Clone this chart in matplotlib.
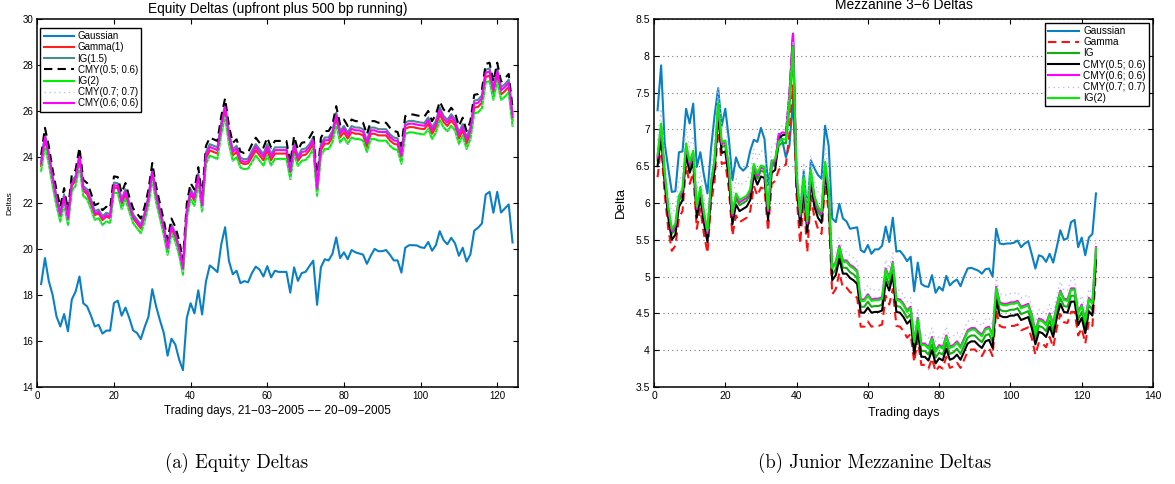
import matplotlib

matplotlib.use("Agg")
import matplotlib.pyplot as plt
from matplotlib.ticker import FuncFormatter, MultipleLocator

plt.rcParams["font.family"] = ["Liberation Sans", "DejaVu Sans"]

days = list(range(1, 125))

# ---- (a) equity tranche deltas
eq_gaussian = [
    18.47, 19.6, 18.6, 18.0, 17.07, 16.63, 17.17, 16.42, 17.8, 18.15,
    18.8, 17.64, 17.5, 17.1, 16.63, 16.7, 16.32, 16.45, 16.45, 17.65,
    17.75, 17.1, 17.45, 17.0, 16.46, 16.35, 16.08, 16.6, 17.05, 18.25,
    17.5, 16.9, 16.35, 15.36, 16.1, 15.85, 15.2, 14.73, 17.0, 17.64,
    17.2, 18.2, 17.15, 18.58, 19.28, 19.15, 18.99, 20.2, 20.94, 19.48,
    18.9, 19.05, 18.51, 18.6, 18.55, 18.95, 19.23, 19.1, 18.8, 19.25,
    18.76, 19.05, 19.0, 19.0, 19.0, 18.1, 19.2, 18.61, 18.95, 19.0,
    19.25, 19.49, 17.57, 19.2, 19.55, 19.5, 19.78, 20.5, 19.6, 19.85,
    19.55, 19.95, 19.85, 19.8, 19.75, 19.35, 19.7, 20.0, 19.9, 19.9,
    19.95, 19.75, 19.5, 19.5, 18.97, 20.05, 20.16, 20.16, 20.15, 20.07,
    20.04, 20.3, 19.92, 20.16, 20.77, 20.38, 20.2, 20.48, 20.24, 19.7,
    20.05, 19.45, 19.76, 20.79, 20.92, 21.1, 22.36, 22.48, 21.57, 22.48,
    21.58, 21.76, 21.93, 20.28,
]
eq_cmy06 = [
    23.70, 24.86, 24.07, 23.06, 22.19, 21.47, 22.26, 21.32, 22.84, 23.06,
    24.00, 22.62, 22.48, 22.05, 21.54, 21.61, 21.32, 21.47, 21.40, 22.77,
    22.74, 22.05, 22.48, 21.90, 21.40, 21.18, 20.96, 21.47, 22.19, 23.35,
    22.34, 21.61, 20.89, 20.02, 20.96, 20.60, 20.02, 19.16, 21.61, 22.48,
    22.19, 23.17, 21.90, 24.07, 24.43, 24.36, 24.29, 25.37, 26.16, 24.94,
    24.21, 24.36, 23.85, 23.78, 23.81, 24.14, 24.43, 24.21, 24.00, 24.43,
    24.00, 24.29, 24.29, 24.29, 24.29, 23.35, 24.50, 23.92, 24.21, 24.24,
    24.43, 24.72, 22.62, 24.43, 24.72, 24.72, 25.00, 25.80, 25.00, 25.22,
    24.94, 25.22, 25.15, 25.15, 25.08, 24.58, 25.15, 25.15, 25.08, 25.08,
    25.08, 24.86, 24.72, 24.68, 24.07, 25.37, 25.44, 25.44, 25.40, 25.37,
    25.35, 25.59, 25.15, 25.44, 26.02, 25.66, 25.49, 25.73, 25.51, 24.94,
    25.30, 24.72, 25.15, 26.31, 26.35, 26.53, 27.65, 27.71, 26.89, 27.71,
    26.89, 27.03, 27.22, 25.73,
]
eq_ig15 = [
    23.81, 24.98, 24.19, 23.17, 22.30, 21.57, 22.37, 21.42, 22.95, 23.17,
    24.12, 22.73, 22.59, 22.16, 21.64, 21.71, 21.42, 21.57, 21.50, 22.88,
    22.85, 22.16, 22.59, 22.00, 21.50, 21.28, 21.06, 21.57, 22.30, 23.46,
    22.45, 21.71, 20.99, 20.12, 21.06, 20.70, 20.12, 19.26, 21.71, 22.59,
    22.30, 23.28, 22.00, 24.19, 24.55, 24.48, 24.41, 25.49, 26.29, 25.06,
    24.33, 24.48, 23.96, 23.89, 23.92, 24.26, 24.55, 24.33, 24.12, 24.55,
    24.12, 24.41, 24.41, 24.41, 24.41, 23.46, 24.62, 24.03, 24.33, 24.36,
    24.55, 24.84, 22.73, 24.55, 24.84, 24.84, 25.12, 25.92, 25.12, 25.34,
    25.06, 25.34, 25.27, 25.27, 25.20, 24.70, 25.27, 25.27, 25.20, 25.20,
    25.20, 24.98, 24.84, 24.80, 24.19, 25.49, 25.56, 25.56, 25.52, 25.49,
    25.47, 25.71, 25.27, 25.56, 26.15, 25.78, 25.61, 25.85, 25.63, 25.06,
    25.42, 24.84, 25.27, 26.44, 26.48, 26.66, 27.78, 27.84, 27.02, 27.84,
    27.02, 27.16, 27.35, 25.85,
]
eq_gamma1 = [
    23.60, 24.71, 23.92, 22.96, 22.09, 21.40, 22.16, 21.25, 22.74, 22.96,
    23.85, 22.52, 22.38, 21.95, 21.47, 21.54, 21.25, 21.40, 21.33, 22.67,
    22.64, 21.95, 22.38, 21.83, 21.33, 21.11, 20.89, 21.40, 22.09, 23.25,
    22.24, 21.54, 20.82, 19.95, 20.89, 20.53, 19.95, 19.09, 21.54, 22.38,
    22.09, 23.07, 21.83, 23.92, 24.28, 24.21, 24.14, 25.22, 25.98, 24.79,
    24.06, 24.21, 23.75, 23.68, 23.71, 23.99, 24.28, 24.06, 23.85, 24.28,
    23.85, 24.14, 24.14, 24.14, 24.14, 23.25, 24.35, 23.82, 24.06, 24.09,
    24.28, 24.57, 22.52, 24.28, 24.57, 24.57, 24.85, 25.65, 24.85, 25.07,
    24.79, 25.07, 25.00, 25.00, 24.93, 24.43, 25.00, 25.00, 24.93, 24.93,
    24.93, 24.71, 24.57, 24.53, 23.92, 25.22, 25.29, 25.29, 25.25, 25.22,
    25.20, 25.44, 25.00, 25.29, 25.84, 25.51, 25.34, 25.58, 25.36, 24.79,
    25.15, 24.57, 25.00, 26.13, 26.17, 26.35, 27.47, 27.53, 26.71, 27.53,
    26.71, 26.85, 27.04, 25.58,
]
eq_ig2 = [
    23.38, 24.48, 23.69, 22.74, 21.87, 21.19, 21.94, 21.04, 22.52, 22.74,
    23.62, 22.30, 22.16, 21.73, 21.26, 21.33, 21.04, 21.19, 21.12, 22.45,
    22.42, 21.73, 22.16, 21.62, 21.12, 20.90, 20.68, 21.19, 21.87, 23.03,
    22.02, 21.33, 20.61, 19.74, 20.68, 20.32, 19.74, 18.88, 21.33, 22.16,
    21.87, 22.85, 21.62, 23.69, 24.05, 23.98, 23.91, 24.99, 25.74, 24.56,
    23.83, 23.98, 23.53, 23.46, 23.49, 23.76, 24.05, 23.83, 23.62, 24.05,
    23.62, 23.91, 23.91, 23.91, 23.91, 23.03, 24.12, 23.60, 23.83, 23.86,
    24.05, 24.34, 22.30, 24.05, 24.34, 24.34, 24.62, 25.42, 24.62, 24.84,
    24.56, 24.84, 24.77, 24.77, 24.70, 24.20, 24.77, 24.77, 24.70, 24.70,
    24.70, 24.48, 24.34, 24.30, 23.69, 24.99, 25.06, 25.06, 25.02, 24.99,
    24.97, 25.21, 24.77, 25.06, 25.60, 25.28, 25.11, 25.35, 25.13, 24.56,
    24.92, 24.34, 24.77, 25.89, 25.93, 26.11, 27.23, 27.29, 26.47, 27.29,
    26.47, 26.61, 26.80, 25.35,
]
eq_cmy0506 = [
    24.08, 25.26, 24.47, 23.44, 22.57, 21.83, 22.64, 21.68, 23.22, 23.44,
    24.40, 23.00, 22.86, 22.43, 21.90, 21.97, 21.68, 21.83, 21.76, 23.15,
    23.12, 22.43, 22.86, 22.26, 21.76, 21.54, 21.32, 21.83, 22.57, 23.73,
    22.72, 21.97, 21.25, 20.38, 21.32, 20.96, 20.38, 19.52, 21.97, 22.86,
    22.57, 23.55, 22.26, 24.47, 24.83, 24.76, 24.69, 25.77, 26.54, 25.34,
    24.61, 24.76, 24.23, 24.16, 24.19, 24.54, 24.83, 24.61, 24.40, 24.83,
    24.40, 24.69, 24.69, 24.69, 24.69, 23.73, 24.90, 24.30, 24.61, 24.64,
    24.83, 25.12, 23.00, 24.83, 25.12, 25.12, 25.40, 26.20, 25.40, 25.62,
    25.34, 25.62, 25.55, 25.55, 25.48, 24.98, 25.55, 25.55, 25.48, 25.48,
    25.48, 25.26, 25.12, 25.08, 24.47, 25.77, 25.84, 25.84, 25.80, 25.77,
    25.75, 25.99, 25.55, 25.84, 26.40, 26.06, 25.89, 26.13, 25.91, 25.34,
    25.70, 25.12, 25.55, 26.69, 26.73, 26.91, 28.03, 28.09, 27.27, 28.09,
    27.27, 27.41, 27.60, 26.13,
]
eq_cmy07 = [
    23.33, 24.43, 23.64, 22.69, 21.82, 21.14, 21.89, 20.99, 22.47, 22.69,
    23.57, 22.25, 22.11, 21.68, 21.21, 21.28, 20.99, 21.14, 21.07, 22.40,
    22.37, 21.68, 22.11, 21.57, 21.07, 20.85, 20.63, 21.14, 21.82, 22.98,
    21.97, 21.28, 20.56, 19.69, 20.63, 20.27, 19.69, 18.83, 21.28, 22.11,
    21.82, 22.80, 21.57, 23.64, 24.00, 23.93, 23.86, 24.94, 25.69, 24.51,
    23.78, 23.93, 23.48, 23.41, 23.44, 23.71, 24.00, 23.78, 23.57, 24.00,
    23.57, 23.86, 23.86, 23.86, 23.86, 22.98, 24.07, 23.55, 23.78, 23.81,
    24.00, 24.29, 22.25, 24.00, 24.29, 24.29, 24.57, 25.37, 24.57, 24.79,
    24.51, 24.79, 24.72, 24.72, 24.65, 24.15, 24.72, 24.72, 24.65, 24.65,
    24.65, 24.43, 24.29, 24.25, 23.64, 24.94, 25.01, 25.01, 24.97, 24.94,
    24.92, 25.16, 24.72, 25.01, 25.55, 25.23, 25.06, 25.30, 25.08, 24.51,
    24.87, 24.29, 24.72, 25.84, 25.88, 26.06, 27.18, 27.24, 26.42, 27.24,
    26.42, 26.56, 26.75, 25.30,
]

# ---- (b) junior mezzanine 3-6 deltas
mz_gaussian = [
    7.26, 7.87, 6.81, 6.47, 6.15, 6.16, 6.69, 6.70, 7.28, 7.08,
    7.35, 6.49, 6.69, 6.38, 6.13, 6.74, 7.19, 7.56, 7.05, 7.28,
    6.87, 6.31, 6.62, 6.49, 6.44, 6.49, 6.71, 6.86, 6.83, 7.02,
    6.87, 6.24, 6.58, 6.51, 6.94, 6.85, 6.62, 6.78, 7.40, 6.25,
    5.85, 6.43, 5.90, 6.58, 6.47, 6.38, 6.33, 7.05, 6.78, 5.79,
    5.74, 5.99, 5.79, 5.75, 5.65, 5.66, 5.67, 5.36, 5.33, 5.43,
    5.31, 5.37, 5.37, 5.42, 5.68, 5.47, 5.80, 5.34, 5.35, 5.29,
    5.21, 5.27, 4.80, 5.19, 4.90, 4.87, 4.86, 5.02, 4.78, 4.86,
    4.81, 5.01, 4.88, 4.93, 4.96, 4.87, 5.00, 5.11, 5.12, 5.10,
    5.08, 5.04, 5.10, 5.11, 5.00, 5.65, 5.45, 5.44, 5.45, 5.45,
    5.46, 5.49, 5.40, 5.45, 5.48, 5.30, 5.11, 5.29, 5.27, 5.20,
    5.31, 5.19, 5.40, 5.63, 5.50, 5.52, 5.74, 5.77, 5.40, 5.53,
    5.29, 5.53, 5.58, 6.13,
]
mz_gamma = [
    6.35, 6.78, 6.12, 5.65, 5.35, 5.42, 5.80, 5.89, 6.51, 6.26,
    6.41, 5.65, 5.92, 5.58, 5.32, 5.99, 6.30, 7.06, 6.53, 6.55,
    6.19, 5.56, 5.83, 5.74, 5.77, 5.80, 5.89, 6.23, 6.10, 6.21,
    6.19, 5.62, 6.26, 6.30, 6.45, 6.50, 6.52, 6.95, 7.60, 6.10,
    5.45, 6.05, 5.33, 6.10, 5.80, 5.65, 5.58, 6.26, 5.89, 4.76,
    4.83, 5.05, 4.85, 4.85, 4.79, 4.76, 4.71, 4.32, 4.32, 4.39,
    4.32, 4.33, 4.33, 4.35, 4.74, 4.62, 4.83, 4.33, 4.32, 4.26,
    4.17, 4.22, 3.84, 4.15, 3.80, 3.80, 3.75, 3.89, 3.71, 3.78,
    3.75, 3.91, 3.76, 3.78, 3.83, 3.76, 3.87, 3.98, 4.01, 4.01,
    3.96, 3.92, 4.01, 4.03, 3.92, 4.54, 4.33, 4.31, 4.31, 4.33,
    4.33, 4.35, 4.27, 4.29, 4.31, 4.16, 3.94, 4.11, 4.09, 4.04,
    4.18, 4.04, 4.30, 4.49, 4.38, 4.37, 4.52, 4.52, 4.20, 4.30,
    4.09, 4.39, 4.33, 5.08,
]
mz_ig = [
    6.58, 7.01, 6.35, 5.88, 5.58, 5.65, 6.03, 6.12, 6.74, 6.49,
    6.64, 5.88, 6.15, 5.81, 5.55, 6.22, 6.53, 7.29, 6.76, 6.78,
    6.42, 5.79, 6.06, 5.97, 6.00, 6.03, 6.12, 6.46, 6.33, 6.44,
    6.42, 5.85, 6.49, 6.53, 6.78, 6.82, 6.81, 7.30, 8.05, 6.33,
    5.78, 6.28, 5.68, 6.38, 6.03, 5.88, 5.81, 6.49, 6.12, 5.03,
    5.10, 5.32, 5.12, 5.12, 5.06, 5.03, 4.98, 4.59, 4.59, 4.66,
    4.59, 4.60, 4.60, 4.62, 5.01, 4.89, 5.10, 4.60, 4.59, 4.53,
    4.44, 4.49, 4.03, 4.34, 3.99, 3.99, 3.94, 4.08, 3.90, 3.97,
    3.94, 4.10, 3.95, 3.97, 4.02, 3.95, 4.06, 4.17, 4.20, 4.20,
    4.15, 4.11, 4.20, 4.22, 4.11, 4.76, 4.55, 4.53, 4.53, 4.55,
    4.55, 4.57, 4.49, 4.51, 4.53, 4.38, 4.16, 4.33, 4.31, 4.26,
    4.40, 4.26, 4.52, 4.71, 4.60, 4.59, 4.74, 4.74, 4.42, 4.52,
    4.31, 4.61, 4.55, 5.30,
]
mz_cmy0506 = [
    6.50, 6.93, 6.27, 5.80, 5.50, 5.57, 5.95, 6.04, 6.66, 6.41,
    6.56, 5.80, 6.07, 5.73, 5.47, 6.14, 6.45, 7.21, 6.68, 6.70,
    6.34, 5.71, 5.98, 5.89, 5.92, 5.95, 6.04, 6.38, 6.25, 6.36,
    6.34, 5.77, 6.41, 6.45, 6.88, 6.92, 6.93, 7.45, 8.30, 6.25,
    5.70, 6.20, 5.60, 6.30, 5.95, 5.80, 5.73, 6.41, 6.04, 4.95,
    5.02, 5.24, 5.04, 5.04, 4.98, 4.95, 4.90, 4.51, 4.51, 4.58,
    4.51, 4.52, 4.52, 4.54, 4.93, 4.81, 5.02, 4.52, 4.51, 4.45,
    4.36, 4.41, 3.95, 4.26, 3.91, 3.91, 3.86, 4.00, 3.82, 3.89,
    3.86, 4.02, 3.87, 3.89, 3.94, 3.87, 3.98, 4.09, 4.12, 4.12,
    4.07, 4.03, 4.12, 4.14, 4.03, 4.68, 4.47, 4.45, 4.45, 4.47,
    4.47, 4.49, 4.41, 4.43, 4.45, 4.30, 4.08, 4.25, 4.23, 4.18,
    4.32, 4.18, 4.44, 4.63, 4.52, 4.51, 4.66, 4.66, 4.34, 4.44,
    4.23, 4.53, 4.47, 5.22,
]
mz_cmy06 = [
    6.62, 7.05, 6.39, 5.92, 5.62, 5.69, 6.07, 6.16, 6.78, 6.53,
    6.68, 5.92, 6.19, 5.85, 5.59, 6.26, 6.57, 7.33, 6.80, 6.82,
    6.46, 5.83, 6.10, 6.01, 6.04, 6.07, 6.16, 6.50, 6.37, 6.48,
    6.46, 5.89, 6.53, 6.57, 6.92, 6.96, 6.95, 7.50, 8.30, 6.37,
    5.82, 6.32, 5.72, 6.42, 6.07, 5.92, 5.85, 6.53, 6.16, 5.13,
    5.20, 5.42, 5.22, 5.22, 5.16, 5.13, 5.08, 4.69, 4.69, 4.76,
    4.69, 4.70, 4.70, 4.72, 5.11, 4.99, 5.20, 4.70, 4.69, 4.63,
    4.54, 4.59, 4.13, 4.44, 4.09, 4.09, 4.04, 4.18, 4.00, 4.07,
    4.04, 4.20, 4.05, 4.07, 4.12, 4.05, 4.16, 4.27, 4.30, 4.30,
    4.25, 4.21, 4.30, 4.32, 4.21, 4.86, 4.65, 4.63, 4.63, 4.65,
    4.65, 4.67, 4.59, 4.61, 4.63, 4.48, 4.26, 4.43, 4.41, 4.36,
    4.50, 4.36, 4.62, 4.81, 4.70, 4.69, 4.84, 4.84, 4.52, 4.62,
    4.41, 4.71, 4.65, 5.40,
]
mz_cmy07 = [
    6.85, 7.28, 6.62, 6.15, 5.85, 5.92, 6.30, 6.39, 7.01, 6.76,
    6.91, 6.15, 6.42, 6.08, 5.82, 6.49, 6.80, 7.56, 7.03, 7.05,
    6.69, 6.06, 6.33, 6.24, 6.27, 6.30, 6.39, 6.73, 6.60, 6.71,
    6.69, 6.12, 6.76, 6.80, 7.00, 7.05, 7.05, 7.50, 8.20, 6.60,
    6.05, 6.55, 5.95, 6.65, 6.30, 6.15, 6.08, 6.76, 6.39, 5.25,
    5.32, 5.54, 5.34, 5.34, 5.28, 5.25, 5.20, 4.81, 4.81, 4.88,
    4.81, 4.82, 4.82, 4.84, 5.23, 5.11, 5.32, 4.82, 4.81, 4.75,
    4.66, 4.71, 4.25, 4.56, 4.21, 4.21, 4.16, 4.30, 4.12, 4.19,
    4.16, 4.32, 4.17, 4.19, 4.24, 4.17, 4.28, 4.39, 4.42, 4.42,
    4.37, 4.33, 4.42, 4.44, 4.33, 4.98, 4.77, 4.75, 4.75, 4.77,
    4.77, 4.79, 4.71, 4.73, 4.75, 4.60, 4.38, 4.55, 4.53, 4.48,
    4.62, 4.48, 4.74, 4.93, 4.82, 4.81, 4.96, 4.96, 4.64, 4.74,
    4.53, 4.83, 4.77, 5.52,
]
mz_ig2 = [
    6.65, 7.08, 6.42, 5.95, 5.65, 5.72, 6.10, 6.19, 6.81, 6.56,
    6.71, 5.95, 6.22, 5.88, 5.62, 6.29, 6.60, 7.36, 6.83, 6.85,
    6.49, 5.86, 6.13, 6.04, 6.07, 6.10, 6.19, 6.53, 6.40, 6.51,
    6.49, 5.92, 6.56, 6.60, 6.83, 6.87, 6.86, 7.37, 8.12, 6.40,
    5.85, 6.35, 5.75, 6.45, 6.10, 5.95, 5.88, 6.56, 6.19, 5.11,
    5.18, 5.40, 5.20, 5.20, 5.14, 5.11, 5.06, 4.67, 4.67, 4.74,
    4.67, 4.68, 4.68, 4.70, 5.09, 4.97, 5.18, 4.68, 4.67, 4.61,
    4.52, 4.57, 4.11, 4.42, 4.07, 4.07, 4.02, 4.16, 3.98, 4.05,
    4.02, 4.18, 4.03, 4.05, 4.10, 4.03, 4.14, 4.25, 4.28, 4.28,
    4.23, 4.19, 4.28, 4.30, 4.19, 4.84, 4.63, 4.61, 4.61, 4.63,
    4.63, 4.65, 4.57, 4.59, 4.61, 4.46, 4.24, 4.41, 4.39, 4.34,
    4.48, 4.34, 4.60, 4.79, 4.68, 4.67, 4.82, 4.82, 4.50, 4.60,
    4.39, 4.69, 4.63, 5.38,
]

BLUE = "#0a80c4"
LAV = "#bcbcff"

eq_series = [
    ("Gaussian", eq_gaussian, dict(color=BLUE, ls="-")),
    ("Gamma(1)", eq_gamma1, dict(color="#ff2020", ls="-")),
    ("IG(1.5)", eq_ig15, dict(color="#4a8c92", ls="-")),
    ("CMY(0.5; 0.6)", eq_cmy0506, dict(color="black", ls=(0, (4, 2.5)))),
    ("IG(2)", eq_ig2, dict(color="#00f000", ls="-")),
    ("CMY(0.7; 0.7)", eq_cmy07, dict(color=LAV, ls=(0, (1, 2.5)), lw=1.0)),
    ("CMY(0.6; 0.6)", eq_cmy06, dict(color="#ff00ff", ls="-")),
]
mz_series = [
    ("Gaussian", mz_gaussian, dict(color=BLUE, ls="-")),
    ("Gamma", mz_gamma, dict(color="#ff1010", ls=(0, (4, 2.5)))),
    ("IG", mz_ig, dict(color="#10b010", ls="-")),
    ("CMY(0.5; 0.6)", mz_cmy0506, dict(color="black", ls="-")),
    ("CMY(0.6; 0.6)", mz_cmy06, dict(color="#ff00ff", ls="-")),
    ("CMY(0.7; 0.7)", mz_cmy07, dict(color=LAV, ls=(0, (1, 2.5)), lw=1.0)),
    ("IG(2)", mz_ig2, dict(color="#00f000", ls="-")),
]


def style_axes(ax, size):
    for sp in ax.spines.values():
        sp.set_linewidth(1.1)
    ax.tick_params(direction="in", top=True, right=True, length=3.5,
                   width=0.8, labelsize=size, pad=3)
    ax.yaxis.set_major_formatter(FuncFormatter(lambda v, _: f"{v:g}"))


def draw(ax, series):
    for name, vals, kw in series:
        kw = dict(kw)
        lw = kw.pop("lw", 1.5)
        ax.plot(days, vals, lw=lw, label=name, **kw)


fig = plt.figure(figsize=(11.75, 4.84), dpi=100)

# left panel
ax1 = fig.add_axes([37.3 / 1175, 97 / 484, 481 / 1175, 368.3 / 484])
draw(ax1, eq_series)
ax1.set_xlim(0, 125.5)
ax1.set_ylim(14, 30)
ax1.xaxis.set_major_locator(MultipleLocator(20))
ax1.yaxis.set_major_locator(MultipleLocator(2))
style_axes(ax1, 7)
ax1.text(0.5, 1.026, "Equity Deltas (upfront plus 500 bp running)",
         transform=ax1.transAxes, ha="center", va="center", fontsize=9.8)
ax1.set_xlabel("Trading days, 21\u221203\u22122005 \u2212\u2212 20\u221209\u22122005",
               fontsize=8.5)
ax1.xaxis.set_label_coords(0.5, -0.049)
ax1.set_ylabel("Deltas", fontsize=6)
ax1.yaxis.set_label_coords(-0.05, 0.5)
leg1 = ax1.legend(loc="upper left", bbox_to_anchor=(0.006, 0.975),
                  borderaxespad=0, fontsize=7, handlelength=3.1,
                  labelspacing=0.12, handletextpad=0.4, borderpad=0.35,
                  fancybox=False, edgecolor="black", framealpha=1)
leg1.get_frame().set_linewidth(1.0)

# right panel
ax2 = fig.add_axes([654 / 1175, 97 / 484, 499 / 1175, 368 / 484])
draw(ax2, mz_series)
ax2.set_xlim(0, 140)
ax2.set_ylim(3.5, 8.5)
ax2.xaxis.set_major_locator(MultipleLocator(20))
ax2.yaxis.set_major_locator(MultipleLocator(0.5))
ax2.yaxis.grid(True, ls=(0, (1, 3)), color="#777777", lw=0.8)
ax2.set_axisbelow(True)
style_axes(ax2, 7.5)
ax2.text(0.5, 1.038, "Mezzanine 3\u22126 Deltas", transform=ax2.transAxes,
         ha="center", va="center", fontsize=10)
ax2.set_xlabel("Trading days", fontsize=8.9)
ax2.xaxis.set_label_coords(0.5, -0.054)
ax2.set_ylabel("Delta", fontsize=9.5)
ax2.yaxis.set_label_coords(-0.054, 0.5)
leg2 = ax2.legend(loc="upper right", bbox_to_anchor=(0.992, 0.989),
                  borderaxespad=0, fontsize=7.2, handlelength=3.1,
                  labelspacing=0.12, handletextpad=0.4, borderpad=0.3,
                  fancybox=False, edgecolor="black", framealpha=1)
leg2.get_frame().set_linewidth(1.0)

# sub-figure captions
serif = ["cmr10", "DejaVu Serif"]
fig.text(237 / 1175, 1 - 463 / 484, "(a) Equity Deltas", ha="center",
         va="center", fontsize=13.5, family=serif)
fig.text(875 / 1175, 1 - 463 / 484, "(b) Junior Mezzanine Deltas",
         ha="center", va="center", fontsize=13.5, family=serif)

fig.savefig("out.png", dpi=100)
plt.close(fig)
